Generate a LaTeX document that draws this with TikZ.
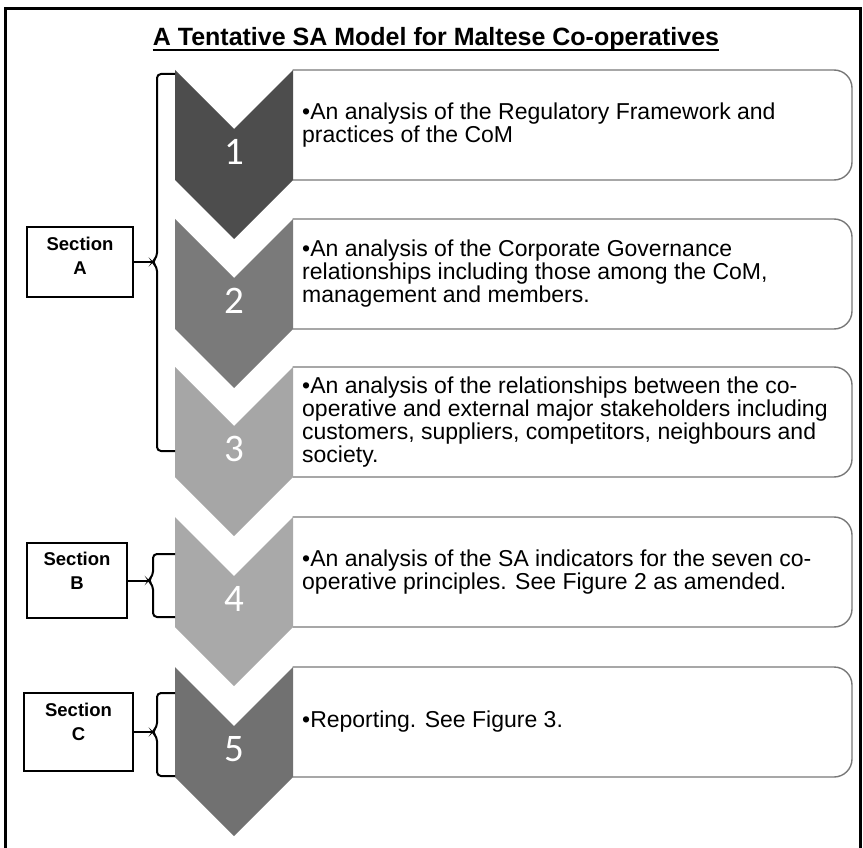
\documentclass[tikz,border=0pt]{standalone}
\usepackage{fontspec}
\setmainfont{Liberation Sans}
\newfontfamily\numfont{Carlito}
\definecolor{c1}{HTML}{4D4D4D}
\definecolor{c2}{HTML}{7A7A7A}
\definecolor{c3}{HTML}{A6A6A6}
\definecolor{c4}{HTML}{A9A9A9}
\definecolor{c5}{HTML}{717171}
\definecolor{boxgray}{HTML}{787878}
\begin{document}
\begin{tikzpicture}[x=1pt,y=-1pt,
  boxline/.style={draw=boxgray,line width=1.4pt,fill=white,rounded corners=18pt},
  numtxt/.style={text=white,font=\numfont\fontsize{39}{39}\selectfont,inner sep=0},
  bodytxt/.style={font=\fontsize{23}{23}\selectfont,align=left,anchor=west,inner sep=0},
  secbox/.style={draw,line width=2pt,inner sep=0},
  sectxt/.style={font=\bfseries\fontsize{18.5}{24}\selectfont,align=center,anchor=north,inner sep=0},
  bracestyle/.style={draw,line width=2pt,rounded corners=4pt}]
\useasboundingbox (0,0) rectangle (863,848);
\draw[line width=3pt] (5,9) rectangle (860,880);
% title
\node[font=\bfseries\fontsize{25}{25}\selectfont,inner sep=0,anchor=base] (title) at (436,46) {A Tentative SA Model for Maltese Co-operatives};
\draw[line width=2pt] ([yshift=-4pt]title.base west) -- ([yshift=-4pt]title.base east);
% boxes and chevrons
\foreach \y/\c/\n in {70/c1/1,219/c2/2,367/c3/3,517/c4/4,667/c5/5}{
  \begin{scope}
    \clip (292.5,\y-5) rectangle (870,\y+115);
    \draw[boxline] (250,\y) rectangle (852,\y+110);
  \end{scope}
  \fill[\c] (175,\y) -- (234,\y+59) -- (293,\y) -- (293,\y+110) -- (234,\y+169) -- (175,\y+110) -- cycle;
  \node[numtxt] (n\n) at (234,\y+82) {\n};
}
\node[bodytxt] (t1) at (302,125) {•An analysis of the Regulatory Framework and\\practices of the CoM};
\node[bodytxt] (t2) at (302,274) {•An analysis of the Corporate Governance\\relationships including those among the CoM,\\management and members.};
\node[bodytxt] (t3) at (302,422) {•An analysis of the relationships between the co-\\operative and external major stakeholders including\\customers, suppliers, competitors, neighbours and\\society.};
\node[bodytxt] (t4) at (302,572) {•An analysis of the SA indicators for the seven co-\\operative principles. See Figure 2 as amended.};
\node[bodytxt] (t5) at (302,722) {•Reporting. See Figure 3.};
% section boxes
\node[secbox,minimum width=106pt,minimum height=70pt] (secA) at (80,262) {};
\node[secbox,minimum width=100pt,minimum height=75pt] (secB) at (77,580.5) {};
\node[secbox,minimum width=109pt,minimum height=78pt] (secC) at (78.5,732) {};
\node[sectxt] (secAt) at ([yshift=-11pt]secA.north) {Section\\A};
\node[sectxt] (secBt) at ([yshift=-10pt]secB.north) {Section\\B};
\node[sectxt] (secCt) at ([yshift=-11pt]secC.north) {Section\\C};
% braces
\coordinate (bA) at (152,262);
\coordinate (bB) at (148,580.5);
\coordinate (bC) at (152,732);
\draw[bracestyle] (175,74) -- (157,74) -- (157,257) -- (bA) -- (157,267) -- (157,451) -- (175,451);
\draw[bracestyle] (175,554) -- (153,554) -- (153,575.5) -- (bB) -- (153,585.5) -- (153,617) -- (175,617);
\draw[bracestyle] (175,693) -- (157,693) -- (157,727) -- (bC) -- (157,737) -- (157,776) -- (175,776);
\draw[line width=2pt] (secA.east) -- (bA);
\draw[line width=2pt] (secB.east) -- (bB);
\draw[line width=2pt] (secC.east) -- (bC);
\end{tikzpicture}
\end{document}
